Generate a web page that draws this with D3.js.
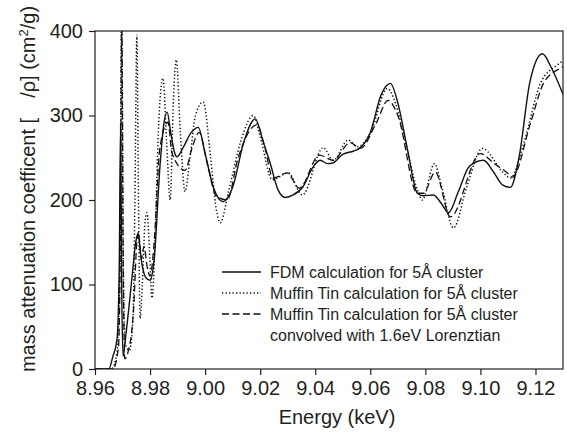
<!DOCTYPE html>
<html>
<head>
<meta charset="utf-8">
<script src="https://cdn.jsdelivr.net/npm/d3@7"></script>
<style>
body { margin: 0; background: #fff; }
text { font-family: "Liberation Sans", Arial, Helvetica, sans-serif; fill: #231f20; }
</style>
</head>
<body>
<script>

// FDM calculation for 5A cluster (solid)
var fdmEnergy = [8.9600, 8.9650, 8.9665, 8.9680, 8.9688, 8.9693, 8.9697, 8.9702, 8.9712, 8.9735,
	8.9748, 8.9756, 8.9770, 8.9785, 8.9800, 8.9815, 8.9836, 8.9850, 8.9862, 8.9875,
	8.9890, 8.9898, 8.9920, 8.9950, 8.9975, 9.0000, 9.0030, 9.0065, 9.0100, 9.0140,
	9.0182, 9.0210, 9.0236, 9.0265, 9.0291, 9.0320, 9.0356, 9.0390, 9.0418, 9.0445,
	9.0465, 9.0500, 9.0540, 9.0564, 9.0600, 9.0640, 9.0673, 9.0700, 9.0735, 9.0771,
	9.0793, 9.0829, 9.0860, 9.0884, 9.0920, 9.0960, 9.1011, 9.1050, 9.1080, 9.1109,
	9.1140, 9.1180, 9.1225, 9.1260, 9.1300];
var fdmValues = [0, 0, 15, 35, 120, 290, 100, 15, 40, 110,
	150, 160, 125, 108, 105, 130, 240, 290, 304, 280,
	255, 251, 262, 280, 286, 255, 215, 198, 215, 268,
	296, 270, 244, 212, 203, 206, 216, 238, 247, 243,
	244, 254, 258, 262, 280, 325, 338, 315, 260, 208,
	205, 206, 195, 185, 210, 240, 247, 232, 218, 215,
	250, 340, 373, 355, 325];

// Muffin Tin calculation for 5A cluster (dotted)
var mtEnergy = [8.9600, 8.9660, 8.9680, 8.9690, 8.9697, 8.9703, 8.9710, 8.9725, 8.9738, 8.9745,
	8.9752, 8.9758, 8.9764, 8.9772, 8.9782, 8.9789, 8.9798, 8.9807, 8.9818, 8.9830,
	8.9847, 8.9860, 8.9873, 8.9885, 8.9895, 8.9910, 8.9927, 8.9945, 8.9965, 8.9993,
	9.0020, 9.0040, 9.0055, 9.0085, 9.0130, 9.0175, 9.0200, 9.0244, 9.0302, 9.0353,
	9.0429, 9.0465, 9.0520, 9.0553, 9.0600, 9.0662, 9.0691, 9.0730, 9.0771, 9.0789,
	9.0833, 9.0860, 9.0902, 9.0950, 9.1007, 9.1084, 9.1109, 9.1160, 9.1218, 9.1280,
	9.1302];
var mtValues = [0, 0, 20, 120, 430, 120, 30, 22, 60, 200,
	395, 200, 60, 100, 175, 185, 140, 84, 150, 280,
	344, 270, 200, 320, 366, 280, 210, 250, 300, 316,
	250, 190, 173, 210, 270, 300, 275, 224, 232, 206,
	262, 247, 271, 263, 279, 332, 315, 265, 212, 200,
	243, 215, 167, 215, 261, 232, 226, 270, 338, 360,
	365];

// Muffin Tin convolved with 1.6eV Lorenztian (dashed)
var convEnergy = [8.9600, 8.9665, 8.9685, 8.9692, 8.9697, 8.9702, 8.9708, 8.9720, 8.9740, 8.9752,
	8.9758, 8.9768, 8.9778, 8.9790, 8.9800, 8.9815, 8.9835, 8.9865, 8.9880, 8.9927,
	8.9953, 8.9978, 9.0010, 9.0040, 9.0080, 9.0120, 9.0189, 9.0215, 9.0247, 9.0298,
	9.0342, 9.0415, 9.0465, 9.0527, 9.0564, 9.0620, 9.0665, 9.0700, 9.0771, 9.0793,
	9.0836, 9.0891, 9.1000, 9.1047, 9.1098, 9.1116, 9.1182, 9.1229, 9.1291, 9.1302];
var convValues = [0, 0, 25, 150, 420, 150, 12, 20, 70, 150,
	162, 130, 145, 120, 110, 150, 260, 292, 255, 235,
	262, 280, 240, 205, 200, 250, 289, 265, 226, 232,
	214, 253, 247, 268, 261, 290, 318, 300, 208, 208,
	233, 180, 255, 244, 232, 227, 291, 338, 356, 358];

var xTicks = [8.96, 8.98, 9.00, 9.02, 9.04, 9.06, 9.08, 9.10, 9.12];
var yTicks = [0, 100, 200, 300, 400];
var legendLabels = [
	["FDM calculation for 5\u00c5 cluster"],
	["Muffin Tin calculation for 5\u00c5 cluster"],
	["Muffin Tin calculation for 5\u00c5 cluster", "convolved with 1.6eV Lorenztian"]
];

window.onload = function WindowLoad(event) {
	Draw_Chart()
}

function Draw_Chart(){

	var W = 567, H = 437
	var left = 95, right = 563, top = 31, bottom = 369

	var svg = d3.select("body").append("svg")
		.attr("width", W)
		.attr("height", H)

	var x = d3.scaleLinear().domain([8.96, 9.13]).range([left, right])
	var y = d3.scaleLinear().domain([0, 400]).range([bottom, top])

	//CLIP THE CURVES TO THE PLOT BOX
	svg.append("clipPath").attr("id", "plotclip")
		.append("rect")
		.attr("x", left).attr("y", top)
		.attr("width", right - left).attr("height", bottom - top)

	var series = [
		{"e": fdmEnergy, "v": fdmValues, "dash": null, "width": 1.4},
		{"e": mtEnergy, "v": mtValues, "dash": "1.3,2.2", "width": 1.5},
		{"e": convEnergy, "v": convValues, "dash": "7,3.5", "width": 1.3}
	]

	var line = d3.line()
		.x(function(d){ return x(d[0]) })
		.y(function(d){ return y(d[1]) })
		.curve(d3.curveMonotoneX)

	var curves = svg.append("g").attr("clip-path", "url(#plotclip)")
	series.forEach(function(s){
		var pts = s.e.map(function(e, i){ return [e, s.v[i]] })
		curves.append("path")
			.attr("d", line(pts))
			.style("fill", "none")
			.style("stroke", "#111")
			.style("stroke-width", s.width)
			.style("stroke-dasharray", s.dash)
	})

	//AXES
	var xAxis = d3.axisBottom(x).tickValues(xTicks).tickSize(6).tickPadding(6)
		.tickFormat(d3.format(".2f"))
	var yAxis = d3.axisLeft(y).tickValues(yTicks).tickSize(6).tickPadding(6)

	var gx = svg.append("g").attr("transform", "translate(0," + bottom + ")").call(xAxis)
	var gy = svg.append("g").attr("transform", "translate(" + left + ",0)").call(yAxis)

	;[gx, gy].forEach(function(g){
		g.select(".domain").remove()
		g.selectAll("line").style("stroke", "#231f20").style("stroke-width", 1.2)
		g.selectAll("text").style("font-size", "20px")
			.style("font-family", "'Liberation Sans', Arial, sans-serif")
			.style("fill", "#231f20")
	})

	//PLOT FRAME
	svg.append("rect")
		.attr("x", left).attr("y", top)
		.attr("width", right - left).attr("height", bottom - top)
		.style("fill", "none")
		.style("stroke", "#231f20")
		.style("stroke-width", 1.2)

	//AXIS TITLES
	svg.append("text")
		.attr("x", (left + right) / 2 + 8)
		.attr("y", 424)
		.attr("text-anchor", "middle")
		.style("font-size", "20px")
		.text("Energy (keV)")

	var yt = svg.append("text")
		.attr("transform", "translate(35,189) rotate(-90)")
		.attr("text-anchor", "middle")
		.style("font-size", "20px")
	yt.append("tspan").text("mass attenuation coefficent [\u2003/\u03c1] (cm")
	yt.append("tspan").attr("dy", -7).style("font-size", "13px").text("2")
	yt.append("tspan").attr("dy", 7).text("/g)")

	//LEGEND
	var ly = 272, step = 21
	var dashes = [null, "1.3,2.2", "7,3.5"]
	var row = 0
	legendLabels.forEach(function(lab, i){
		var yy = ly + row * step
		svg.append("line")
			.attr("x1", 222).attr("x2", 261)
			.attr("y1", yy).attr("y2", yy)
			.style("stroke", "#111")
			.style("stroke-width", 1.3)
			.style("stroke-dasharray", dashes[i])
		lab.forEach(function(t, j){
			svg.append("text")
				.attr("x", 270)
				.attr("y", ly + (row + j) * step)
				.attr("dy", "0.35em")
				.style("font-size", "16px")
				.text(t)
		})
		row += lab.length
	})
}

</script>
</body>
</html>
